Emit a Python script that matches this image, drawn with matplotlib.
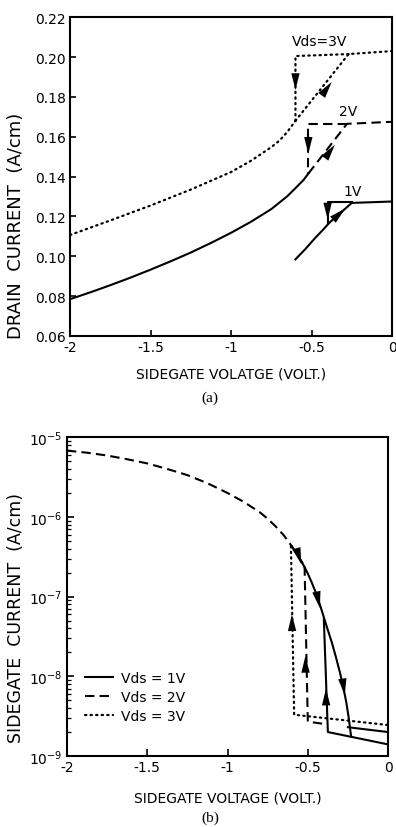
import matplotlib
matplotlib.use("Agg")
import matplotlib.pyplot as plt

plt.rcParams['font.family'] = ['DejaVu Sans']
plt.rcParams['axes.unicode_minus'] = False

# ---- (a) drain current vs sidegate voltage ----
a_v3_curve_x = [-2.0, -1.75, -1.5, -1.25, -1.0, -0.875, -0.75, -0.7, -0.65, -0.6]
a_v3_curve_y = [0.1107, 0.118, 0.1255, 0.1335, 0.1423, 0.148, 0.1548, 0.158, 0.1625, 0.168]
a_v3_up_x = [-0.6, -0.27, 0.0]
a_v3_up_y = [0.168, 0.2015, 0.203]
a_v3_down_x = [-0.27, -0.6, -0.6]
a_v3_down_y = [0.2015, 0.2005, 0.168]

a_v2_curve_x = [-2.0, -1.875, -1.75, -1.625, -1.5, -1.375, -1.25, -1.125, -1.0,
                -0.875, -0.75, -0.65, -0.6, -0.55, -0.52]
a_v2_curve_y = [0.0785, 0.0819, 0.0855, 0.0893, 0.0933, 0.0975, 0.1019, 0.1067, 0.1118,
                0.1174, 0.1237, 0.1302, 0.1342, 0.1383, 0.1415]
a_v2_up_x = [-0.52, -0.28, 0.0]
a_v2_up_y = [0.1415, 0.1665, 0.1675]
a_v2_down_x = [-0.28, -0.52, -0.52]
a_v2_down_y = [0.1665, 0.1665, 0.1415]

a_v1_curve_x = [-0.6, -0.54, -0.48, -0.43, -0.39]
a_v1_curve_y = [0.0985, 0.1035, 0.109, 0.1132, 0.1168]
a_v1_up_x = [-0.39, -0.25, 0.0]
a_v1_up_y = [0.1168, 0.1268, 0.1275]
a_v1_down_x = [-0.25, -0.40, -0.40]
a_v1_down_y = [0.1273, 0.1273, 0.1168]

# arrows (tail x, tail y, tip x, tip y)
a_arrows = [
    (-0.6, 0.191, -0.6, 0.1835),
    (-0.43, 0.1815, -0.375, 0.1875),
    (-0.52, 0.159, -0.52, 0.1515),
    (-0.41, 0.150, -0.355, 0.156),
    (-0.40, 0.1245, -0.40, 0.1185),
    (-0.345, 0.120, -0.29, 0.124),
]
a_labels = [("Vds=3V", -0.62, 0.2045), ("2V", -0.33, 0.1695), ("1V", -0.30, 0.1295)]

# ---- (b) sidegate current vs sidegate voltage ----
b_v2_curve_x = [-2.0, -1.875, -1.75, -1.625, -1.5, -1.375, -1.25, -1.125, -1.0,
                -0.9, -0.8, -0.75, -0.7, -0.65, -0.6, -0.55, -0.52]
b_v2_curve_y = [6.8e-6, 6.4e-6, 5.9e-6, 5.3e-6, 4.7e-6, 4.0e-6, 3.35e-6, 2.65e-6, 2.0e-6,
                1.55e-6, 1.15e-6, 9.5e-7, 7.6e-7, 5.9e-7, 4.3e-7, 3.0e-7, 2.4e-7]
b_v2_loop_x = [-0.52, -0.50, -0.38]
b_v2_loop_y = [2.4e-7, 2.7e-9, 2.5e-9]

b_v1_curve_x = [-0.6, -0.575, -0.55, -0.525, -0.5, -0.475, -0.45, -0.425, -0.4,
                -0.375, -0.35, -0.325, -0.3, -0.28, -0.26, -0.245, -0.23]
b_v1_curve_y = [4.3e-7, 3.6e-7, 3.0e-7, 2.45e-7, 1.95e-7, 1.5e-7, 1.12e-7, 8.0e-8, 5.5e-8,
                3.8e-8, 2.65e-8, 1.75e-8, 1.12e-8, 7.5e-9, 4.7e-9, 3.0e-9, 1.75e-9]
b_v1_low_x = [-0.40, -0.375, 0.0]
b_v1_low_y = [5.2e-8, 2.0e-9, 1.4e-9]
b_v1_high_x = [-0.25, 0.0]
b_v1_high_y = [2.3e-9, 2.0e-9]

b_v3_loop_x = [-0.605, -0.585, 0.0]
b_v3_loop_y = [4.3e-7, 3.3e-9, 2.45e-9]

b_arrows = [
    (-0.57, 4.0e-7, -0.54, 2.55e-7),
    (-0.45, 1.25e-7, -0.425, 7.2e-8),
    (-0.29, 1.1e-8, -0.27, 5.8e-9),
    (-0.597, 2.8e-8, -0.599, 6.0e-8),
    (-0.513, 8.0e-9, -0.515, 1.8e-8),
    (-0.385, 3.2e-9, -0.387, 7.0e-9),
]

series_labels = ["Vds = 1V", "Vds = 2V", "Vds = 3V"]

fig = plt.figure(figsize=(3.96, 8.28), dpi=100)
ax1 = fig.add_axes([0.177, 0.593, 0.813, 0.385])
ax2 = fig.add_axes([0.169, 0.0857, 0.811, 0.385])

dot = dict(color='k', lw=1.6, linestyle=(0, (0.6, 1.9)), dash_capstyle='round')
dash = dict(color='k', lw=1.5, linestyle=(0, (4.5, 2.5)))
sol = dict(color='k', lw=1.5)
arrow_props = dict(arrowstyle='-|>,head_length=1.0,head_width=0.25', color='k', lw=0.01,
                   shrinkA=0, shrinkB=0, mutation_scale=12)

# (a)
ax1.plot(a_v3_curve_x, a_v3_curve_y, **dot)
ax1.plot(a_v3_up_x, a_v3_up_y, **dot)
ax1.plot(a_v3_down_x, a_v3_down_y, **dot)
ax1.plot(a_v2_curve_x, a_v2_curve_y, **sol)
ax1.plot(a_v2_up_x, a_v2_up_y, **dash)
ax1.plot(a_v2_down_x, a_v2_down_y, **dash)
ax1.plot(a_v1_curve_x, a_v1_curve_y, **sol)
ax1.plot(a_v1_up_x, a_v1_up_y, **sol)
ax1.plot(a_v1_down_x, a_v1_down_y, **sol)
for x0, y0, x1, y1 in a_arrows:
    ax1.annotate('', xy=(x1, y1), xytext=(x0, y0), arrowprops=arrow_props)
for txt, x, y in a_labels:
    ax1.text(x, y, txt, fontsize=10, ha='left', va='bottom')

ax1.set_xlim(-2, 0)
ax1.set_ylim(0.06, 0.22)
ax1.set_xticks([-2, -1.5, -1, -0.5, 0])
ax1.set_xticklabels(['-2', '-1.5', '-1', '-0.5', '0'])
ax1.set_yticks([0.06, 0.08, 0.10, 0.12, 0.14, 0.16, 0.18, 0.20, 0.22])
ax1.set_yticklabels(['0.06', '0.08', '0.10', '0.12', '0.14', '0.16', '0.18', '0.20', '0.22'])
ax1.tick_params(direction='in', length=4, width=1.2, labelsize=10, pad=3)
ax1.set_xlabel('SIDEGATE VOLATGE (VOLT.)', fontsize=10, labelpad=9)
ax1.set_ylabel('DRAIN  CURRENT  (A/cm)', fontsize=13)
ax1.yaxis.set_label_coords(-0.14, 0.35)
for s in ax1.spines.values():
    s.set_linewidth(1.5)
fig.text(0.53, 0.519, '(a)', family='Liberation Serif', fontsize=11, ha='center', va='center')

# (b)
l1, = ax2.plot(b_v1_curve_x, b_v1_curve_y, **sol)
ax2.plot(b_v1_low_x, b_v1_low_y, **sol)
ax2.plot(b_v1_high_x, b_v1_high_y, **sol)
l2, = ax2.plot(b_v2_curve_x, b_v2_curve_y, **dash)
ax2.plot(b_v2_loop_x, b_v2_loop_y, **dash)
l3, = ax2.plot(b_v3_loop_x, b_v3_loop_y, **dot)
for x0, y0, x1, y1 in b_arrows:
    ax2.annotate('', xy=(x1, y1), xytext=(x0, y0), arrowprops=arrow_props)

ax2.set_yscale('log')
ax2.set_xlim(-2, 0)
ax2.set_ylim(1e-9, 1e-5)
ax2.set_xticks([-2, -1.5, -1, -0.5, 0])
ax2.set_xticklabels(['-2', '-1.5', '-1', '-0.5', '0'])
ax2.tick_params(which='major', direction='in', length=5, width=1.2, labelsize=10, pad=3)
ax2.tick_params(which='minor', direction='in', length=3, width=0.9)
ax2.set_xlabel('SIDEGATE VOLTAGE (VOLT.)', fontsize=10, labelpad=12)
ax2.set_ylabel('SIDEGATE  CURRENT  (A/cm)', fontsize=12.5)
ax2.yaxis.set_label_coords(-0.131, 0.436)
for s in ax2.spines.values():
    s.set_linewidth(1.5)
ax2.legend([l1, l2, l3], series_labels, loc='upper left', bbox_to_anchor=(0.018, 0.305),
           frameon=False, fontsize=10, handlelength=2.0, handletextpad=0.6, labelspacing=0.35)
fig.text(0.53, 0.012, '(b)', family='Liberation Serif', fontsize=11, ha='center', va='center')

fig.savefig('out.png', dpi=100)
